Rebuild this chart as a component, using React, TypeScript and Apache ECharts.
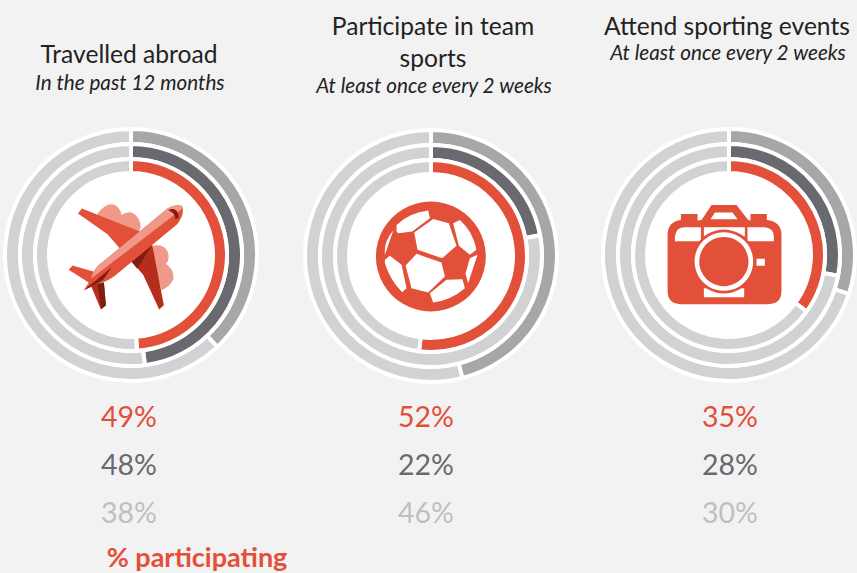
import React, { useEffect, useRef } from "react";
import * as echarts from "echarts";

// ---- data ----
const panelTitles = [["Travelled abroad"], ["Participate in team", "sports"], ["Attend sporting events"]];
const panelSubtitles = ["In the past 12 months", "At least once every 2 weeks", "At least once every 2 weeks"];
const innerRing = [49, 52, 35];
const middleRing = [48, 22, 28];
const outerRing = [38, 46, 30];
const footerLabel = "% participating";

// ---- styling / layout ----
const RED = "#E2503A";
const DARK = "#696A6F";
const MID = "#A7A7A7";
const LIGHT = "#D1D2D4";
const PALE_TEXT = "#BEBFC1";
const BG = "#F2F2F2";
const FONT = "Lato, 'Open Sans', sans-serif";
const CENTERS = [[131, 255], [431, 256], [729, 255]];
const TITLE_X = [129, 433, 727];
const TITLE_Y = [[53], [25, 57], [25]];
const SUB_Y = [82, 85, 52];
const PCT_X = [129, 426, 730];

const LIGHT_RED = "#F0998A";
const WINE = "#B52E1B";
const DEEP = "#7F1D0E";

const planeShapes: [string, string][] = [
  ["planeFlapTop", "M292 282 Q320 245 345 255 Q362 265 365 285 Q395 265 415 295 Q432 320 410 345 L340 330 Z"],
  ["planeWingTop", "M234 281 L246 266 L420 335 L360 386 L322 342 Z"],
  ["planeFlapBottom", "M458 378 Q495 370 505 400 Q510 420 498 432 Q525 450 520 480 Q510 500 485 512 L460 420 Z"],
  ["planeWingBottom", "M395 425 L457 374 L492 556 L478 569 L430 465 Z"],
  ["planeWingShade", "M395 425 L457 374 L412 447 Z"],
  ["planeTailTop", "M206 450 L218 437 L280 455 L286 492 L270 490 Z"],
  ["planeTailBottom", "M272 495 L312 488 L318 556 L303 569 Z"],
  ["planeTailShade", "M292 492 L312 488 L318 556 L304 568 Z"],
  ["planeBody", "M252 511 L274 476 Q280 450 298 435 L503 266 Q525 252 547 258 Q556 282 532 313 L345 468 Q318 488 295 491 Z"],
  ["planeBodyLight", "M274 476 Q280 450 298 435 L503 266 Q525 252 547 258 Q548 264 542 271 L274 476 Z"],
  ["planeBodyShade", "M252 511 L335 443 L310 480 L285 495 Z"],
  ["planeCockpit", "M505 270 Q518 264 528 270 Q538 280 536 294 L527 298 Q526 282 515 276 Z"],
];
const planeFills: Record<string, string> = {
  planeFlapTop: LIGHT_RED, planeWingTop: RED, planeFlapBottom: LIGHT_RED, planeWingBottom: WINE,
  planeWingShade: DEEP, planeTailTop: RED, planeTailBottom: WINE, planeTailShade: DEEP,
  planeBody: RED, planeBodyLight: LIGHT_RED, planeBodyShade: DEEP, planeCockpit: DEEP,
};

const ballPanels =
  "M415 297 L462 310 L485 378 L442 415 L368 390 L358 338 Z " +
  "M365 402 L440 428 L450 470 L400 518 L350 505 L332 437 Z " +
  "M305 335 L305 315 Q345 278 400 272 L405 295 L352 335 L310 340 Z " +
  "M475 310 L495 300 Q535 335 545 390 L525 405 L492 378 Z " +
  "M295 332 L270 405 Q266 365 295 332 Z " +
  "M285 408 L320 435 L335 505 L322 517 Q285 480 270 430 L270 420 Z " +
  "M548 405 L520 490 L512 462 L525 415 Z " +
  "M405 520 L455 480 L503 478 L510 505 Q470 540 415 548 Z";

const cameraBody =
  "M273 282 L323 282 L323 302 L335 300 L365 255 L440 255 L475 300 L482 302 L482 282 L531 282 L531 300 " +
  "Q575 305 575 345 L575 513 Q575 553 535 553 L273 553 Q233 553 233 513 L233 345 Q233 305 273 300 Z";
const cameraWindows =
  "M255 364 L255 350 Q258 322 285 322 L333 322 L333 364 Z " +
  "M473 322 L525 322 Q552 325 552 350 L552 364 L473 364 Z " +
  "M362 298 L375 278 L428 278 L443 298 Z " +
  "M342 322 L465 322 L465 350 L342 350 Z " +
  "M342 505 L463 505 L463 532 L342 532 Z " +
  "M500 417 L525 417 L525 438 L500 438 Z";

const registered = new Set<string>();
function reg(name: string, d: string) {
  if (!registered.has(name)) {
    echarts.graphic.registerShape(name, echarts.graphic.extendPath(d, {}) as any);
    registered.add(name);
  }
}

function planeIcon() {
  planeShapes.forEach(([n, d]) => reg(n, d));
  return {
    type: "group", x: 0, y: 120, scaleX: 1 / 3, scaleY: 1 / 3, z: 10,
    children: planeShapes.map(([n]) => ({ type: n, z: 10, style: { fill: planeFills[n] } })),
  };
}
function ballIcon() {
  reg("ballPanels", ballPanels);
  return {
    type: "group", x: 295, y: 120, scaleX: 1 / 3, scaleY: 1 / 3, z: 10,
    children: [
      { type: "circle", z: 10, shape: { cx: 408, cy: 410, r: 165 }, style: { fill: RED } },
      { type: "ballPanels", z: 11, style: { fill: "#fff" } },
    ],
  };
}
function cameraIcon() {
  reg("cameraBody", cameraBody);
  reg("cameraWindows", cameraWindows);
  return {
    type: "group", x: 590, y: 120, scaleX: 1 / 3, scaleY: 1 / 3, z: 10,
    children: [
      { type: "cameraBody", z: 10, style: { fill: RED } },
      { type: "cameraWindows", z: 11, style: { fill: "#fff" } },
      { type: "circle", z: 12, shape: { cx: 402, cy: 425, r: 96 }, style: { fill: RED } },
      { type: "circle", z: 13, shape: { cx: 402, cy: 425, r: 88 }, style: { fill: "#fff" } },
      { type: "circle", z: 14, shape: { cx: 402, cy: 425, r: 74 }, style: { fill: RED } },
    ],
  };
}

function label(text: string, x: number, y: number, size: number, fill: string, extra: any = {}) {
  return {
    type: "text", x, y, z: 20,
    style: {
      text, fill, fontFamily: FONT, fontSize: size,
      textAlign: "center", textVerticalAlign: "middle", ...extra,
    },
  };
}

function ring(center: number[], radius: number[], value: number, color: string) {
  return {
    type: "pie", center, radius, startAngle: 90, clockwise: true, silent: true,
    label: { show: false }, labelLine: { show: false }, z: 3,
    itemStyle: { borderColor: "#fff", borderWidth: 4 },
    emphasis: { disabled: true },
    data: [
      { value, itemStyle: { color } },
      { value: 100 - value, itemStyle: { color: LIGHT } },
    ],
  };
}

export default function App() {
  const ref = useRef<HTMLDivElement>(null);
  useEffect(() => {
    const chart = echarts.init(ref.current!, undefined, { renderer: "svg" });
    const series: any[] = [];
    CENTERS.forEach((c, i) => {
      series.push({
        type: "pie", center: c, radius: [0, 90], silent: true, z: 1,
        label: { show: false }, labelLine: { show: false }, emphasis: { disabled: true },
        itemStyle: { color: "#fff" }, data: [{ value: 1 }],
      });
      series.push(ring(c, [111, 126], outerRing[i], MID));
      series.push(ring(c, [96, 111], middleRing[i], DARK));
      series.push(ring(c, [82, 96], innerRing[i], RED));
    });
    const texts: any[] = [];
    panelTitles.forEach((lines, i) => {
      lines.forEach((t, j) => texts.push(label(t, TITLE_X[i], TITLE_Y[i][j], 24.6, "#222222")));
      texts.push(label(panelSubtitles[i], TITLE_X[i] + 1, SUB_Y[i], 20.7, "#222222", { fontStyle: "italic" }));
      texts.push(label(`${innerRing[i]}%`, PCT_X[i], 416, 28.5, RED));
      texts.push(label(`${middleRing[i]}%`, PCT_X[i], 464, 28.5, DARK));
      texts.push(label(`${outerRing[i]}%`, PCT_X[i], 512, 28.5, PALE_TEXT));
    });
    texts.push(label(footerLabel, 197, 556.5, 27, RED, { fontWeight: "bold" }));
    chart.setOption({
      animation: false,
      backgroundColor: BG,
      series,
      graphic: { elements: [...texts, planeIcon(), ballIcon(), cameraIcon()] },
    });
    return () => chart.dispose();
  }, []);
  return <div ref={ref} style={{ position: "fixed", left: 0, top: 0, width: 857, height: 573 }} />;
}
